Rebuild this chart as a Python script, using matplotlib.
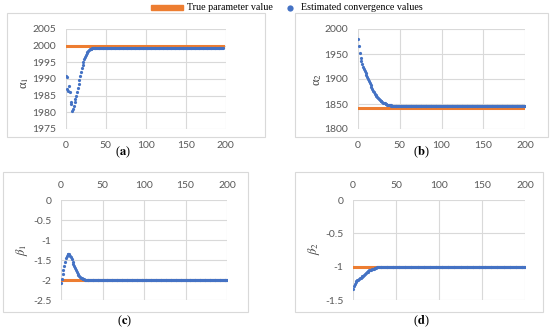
import matplotlib
matplotlib.use('Agg')
import matplotlib.pyplot as plt
from matplotlib.patches import Rectangle
import numpy as np

plt.rcParams['axes.unicode_minus'] = False
plt.rcParams['mathtext.fontset'] = 'stix'

# valeurs (une valeur par itération)
alpha1_debut = [1991, 1987, 1990.5, 1986.5, 1988, 1986, 1983, 1982.5, 1980.5, 1981,
                1982, 1983, 1984, 1985, 1986.2, 1987.4, 1988.6, 1989.8, 1991, 1992.2,
                1993.3, 1994.3, 1995.2, 1996, 1996.7, 1997.3, 1997.8, 1998.2, 1998.5, 1998.75,
                1998.9, 1999.0, 1999.1, 1999.15]
alpha1_fin = 1999.2
alpha1_n = 197

alpha2_debut = [1981, 1966, 1953, 1943, 1936, 1930, 1925, 1920, 1916, 1912,
                1908, 1904, 1900, 1896, 1892, 1888, 1884, 1880, 1877, 1874,
                1871, 1868.5, 1866, 1863.8, 1861.8, 1860, 1858.3, 1856.8, 1855.4, 1854.1,
                1853, 1852, 1851.1, 1850.3, 1849.6, 1849, 1848.5, 1848, 1847.6, 1847.3,
                1847, 1846.7, 1846.5, 1846.3, 1846.1, 1846, 1845.9, 1845.8, 1845.7, 1845.6,
                1845.5, 1845.4]
alpha2_fin = 1845.3
alpha2_n = 201

beta1_debut = [-2.08, -1.97, -1.86, -1.75, -1.64, -1.54, -1.46, -1.4, -1.36, -1.35,
               -1.36, -1.39, -1.43, -1.48, -1.54, -1.6, -1.66, -1.71, -1.76, -1.8,
               -1.84, -1.87, -1.9, -1.92, -1.94, -1.955, -1.965, -1.975, -1.982, -1.988,
               -1.992, -1.995, -1.997]
beta1_fin = -2.0
beta1_n = 201

beta2_debut = [-1.335, -1.29, -1.255, -1.235, -1.22, -1.205, -1.195, -1.185, -1.175, -1.165,
               -1.155, -1.145, -1.135, -1.12, -1.105, -1.095, -1.085, -1.075, -1.065, -1.055,
               -1.05, -1.044, -1.038, -1.033, -1.028, -1.023, -1.019, -1.015, -1.012, -1.009,
               -1.007, -1.005, -1.004, -1.003, -1.002, -1.001]
beta2_fin = -1.0
beta2_n = 201

vraies_valeurs = [2000, 1843, -2, -1]
etiquettes = ['a', 'b', 'c', 'd']
ylimites = [(1975, 2005, 5), (1800, 2000, 50), (-2.5, 0, 0.5), (-1.5, 0, 0.5)]


def serie(debut, fin, n):
    return np.array(debut + [fin] * (n - len(debut)))


series = [serie(alpha1_debut, alpha1_fin, alpha1_n),
          serie(alpha2_debut, alpha2_fin, alpha2_n),
          serie(beta1_debut, beta1_fin, beta1_n),
          serie(beta2_debut, beta2_fin, beta2_n)]
noms_y = ['α$_1$', 'α$_2$', r'$\beta_1$', r'$\beta_2$']

W, H = 550, 331
fig = plt.figure(figsize=(5.5, 3.31), dpi=100)

# positions en pixels : (gauche, droite, haut, bas)
axes_px = [(65.7, 225.7, 29, 129), (358, 525, 29, 129),
           (61, 227, 200, 300), (353, 525, 200, 300)]
cadres_px = [(7, 265, 13, 137), (295, 548, 13, 137),
             (3, 248, 172, 312), (295, 543, 172, 312)]
lettres_px = [(123, 152), (421, 152), (125, 321), (421, 321)]
ylabel_px = [(25, 83), (318, 80), (22, 250), (314, 248)]

bleu = '#4472C4'
orange = '#ED7D31'
gris = '#D9D9D9'
police_ticks = 'Lato'

for i in range(4):
    l, r, t, b = cadres_px[i]
    fig.patches.append(Rectangle((l / W, 1 - b / H), (r - l) / W, (b - t) / H,
                                 transform=fig.transFigure, fill=False,
                                 edgecolor=gris, linewidth=0.8))
    l, r, t, b = axes_px[i]
    ax = fig.add_axes([l / W, 1 - b / H, (r - l) / W, (b - t) / H])
    y = series[i]
    x = np.arange(len(y))
    ax.plot(x, [vraies_valeurs[i]] * len(y), color=orange, linewidth=2.2, zorder=2)
    ax.plot(x, y, linestyle='none', marker='o', markersize=2.3,
            color=bleu, markeredgewidth=0, zorder=3)
    ax.set_xlim(0, 200)
    ax.set_xticks([0, 50, 100, 150, 200])
    y0, y1, pas = ylimites[i]
    ax.set_ylim(y0, y1)
    ax.set_yticks(np.arange(y0, y1 + pas / 2, pas))
    if i >= 2:
        ax.set_yticklabels(['%g' % v for v in np.arange(y0, y1 + pas / 2, pas)])
        ax.xaxis.tick_top()
    ax.grid(True, color=gris, linewidth=0.8)
    ax.set_axisbelow(True)
    for s in ax.spines.values():
        s.set_visible(False)
    ax.tick_params(axis='y', length=0, labelsize=7.5, labelcolor='#595959', pad=7)
    ax.tick_params(axis='x', length=0, labelsize=7.5, labelcolor='#595959',
                   pad=9 if i < 2 else 7)
    for lab in ax.get_xticklabels() + ax.get_yticklabels():
        lab.set_fontfamily(police_ticks)

    px, py = ylabel_px[i]
    fig.text(px / W, 1 - py / H, noms_y[i], rotation=90, ha='center', va='center',
             fontsize=9, family='Liberation Serif', color='#404040')
    px, py = lettres_px[i]
    fig.text(px / W, 1 - py / H, '(' + r'$\mathbf{' + etiquettes[i] + '}$' + ')',
             ha='center', va='center', fontsize=9, family='Liberation Serif')

# légende en haut
fig.patches.append(Rectangle((151 / W, 1 - 9.5 / H), 32 / W, 4 / H,
                             transform=fig.transFigure, color=orange))
fig.text(187 / W, 1 - 7.5 / H, 'True parameter value', ha='left', va='center',
         fontsize=7.2, family='Liberation Serif')
fig.lines.append(plt.Line2D([290 / W], [1 - 7.5 / H], marker='o', markersize=4.5,
                            color=bleu, markeredgewidth=0, transform=fig.transFigure))
fig.text(301 / W, 1 - 7.5 / H, 'Estimated convergence values', ha='left', va='center',
         fontsize=7.2, family='Liberation Serif')

fig.savefig('out.png', dpi=100)
